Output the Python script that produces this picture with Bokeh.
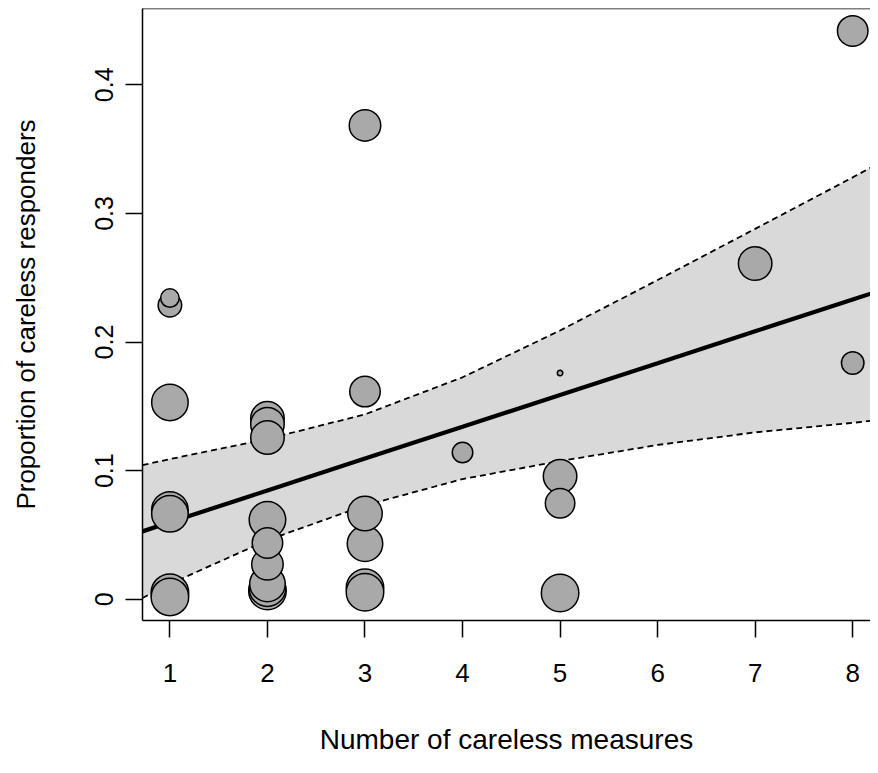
from bokeh.plotting import figure
from bokeh.models import Range1d, FixedTicker, Span, ColumnDataSource
from bokeh.embed import file_html
from bokeh.resources import INLINE

# ---------------- data ----------------
# studies: number of careless measures, proportion of careless responders, bubble weight (px)
m1_prop = [0.2342, 0.2286, 0.1531, 0.0695, 0.0665, 0.0052, 0.0019]
m1_w = [20, 25, 38, 38, 38, 39, 39]
m2_prop = [0.1407, 0.1362, 0.1258, 0.0618, 0.0438, 0.0272, 0.0120, 0.0087, 0.0065]
m2_w = [35, 35, 35, 38, 32, 33, 37, 38, 39]
m3_prop = [0.3684, 0.1615, 0.0667, 0.0432, 0.0090, 0.0055]
m3_w = [33, 32, 36, 37, 39, 39]
m4_prop = [0.1141]
m4_w = [22]
m5_prop = [0.1759, 0.0956, 0.0746, 0.0049]
m5_w = [7, 35, 31, 39]
m7_prop = [0.2610]
m7_w = [35]
m8_prop = [0.4419, 0.1837]
m8_w = [32, 24]

# regression prediction and 95% CI, read along the x axis
grid_x = [0.719, 1, 2, 3, 4, 5, 6, 7, 8, 8.19]
pred = [0.0528, 0.0599, 0.0846, 0.1094, 0.1341, 0.1589, 0.1836, 0.2084, 0.2331, 0.2378]
ci_lower = [0.0010, 0.0120, 0.0460, 0.0730, 0.0935, 0.1075, 0.1200, 0.1298, 0.1372, 0.1388]
ci_upper = [0.1044, 0.1090, 0.1247, 0.1438, 0.1726, 0.2090, 0.2482, 0.2880, 0.3280, 0.3358]

x_ticks = [1, 2, 3, 4, 5, 6, 7, 8]
y_ticks = [0, 0.1, 0.2, 0.3, 0.4]
y_tick_labels = {0: "0", 0.1: "0.1", 0.2: "0.2", 0.3: "0.3", 0.4: "0.4"}

# ---------------- assemble ----------------
groups = [(1, m1_prop, m1_w), (2, m2_prop, m2_w), (3, m3_prop, m3_w), (4, m4_prop, m4_w),
          (5, m5_prop, m5_w), (7, m7_prop, m7_w), (8, m8_prop, m8_w)]
pts = []
for mx, props, ws in groups:
    for pv, wv in zip(props, ws):
        pts.append((mx, pv, wv))
pts.sort(key=lambda t: -t[2])  # largest first, smaller on top
src = ColumnDataSource(dict(x=[t[0] for t in pts], y=[t[1] for t in pts],
                            s=[t[2] - 1.5 for t in pts]))

FONT = "Liberation Sans"
Y0, Y1 = -0.01645, 0.4593

p = figure(width=870, height=757,
           x_range=Range1d(0.719, 8.1825), y_range=Range1d(Y0, Y1),
           output_backend="svg", toolbar_location=None,
           min_border_left=142, min_border_right=0, min_border_top=8, min_border_bottom=136)
p.outline_line_color = None
p.grid.visible = False
p.background_fill_color = "white"
p.border_fill_color = "white"

# CI band
p.varea(x=grid_x, y1=ci_lower, y2=ci_upper, fill_color="#D9D9D9", fill_alpha=1.0)
p.line(grid_x, ci_lower, line_color="black", line_width=1.8, line_dash="6 4")
p.line(grid_x, ci_upper, line_color="black", line_width=1.8, line_dash="6 4")
p.line(grid_x, pred, line_color="black", line_width=4.2)

p.scatter("x", "y", size="s", source=src, fill_color="#A9A9A9",
          line_color="black", line_width=1.5)

# top frame line
p.add_layout(Span(location=Y1, dimension="width", line_color="black", line_width=1.5))

# axes
xa = p.xaxis[0]
xa.ticker = FixedTicker(ticks=x_ticks)
xa.axis_label = "Number of careless measures"
ya = p.yaxis[0]
ya.ticker = FixedTicker(ticks=y_ticks)
ya.major_label_overrides = y_tick_labels
ya.axis_label = "Proportion of careless responders"
ya.major_label_orientation = "vertical"

for ax in (xa, ya):
    ax.minor_tick_line_color = None
    ax.major_tick_in = 0
    ax.major_tick_out = 17
    ax.major_tick_line_width = 1.5
    ax.major_tick_line_color = "black"
    ax.axis_line_width = 1.5
    ax.axis_line_color = "black"
    ax.major_label_text_font = FONT
    ax.major_label_text_color = "black"
    ax.axis_label_text_font = FONT
    ax.axis_label_text_font_style = "normal"
    ax.axis_label_text_color = "black"

xa.major_label_text_font_size = "26px"
xa.axis_label_text_font_size = "28px"
ya.major_label_text_font_size = "25px"
ya.axis_label_text_font_size = "26px"

xa.major_label_standoff = 26
xa.axis_label_standoff = 39
ya.major_label_standoff = 12
ya.axis_label_standoff = 52

open("out.html", "w").write(file_html(p, INLINE))
